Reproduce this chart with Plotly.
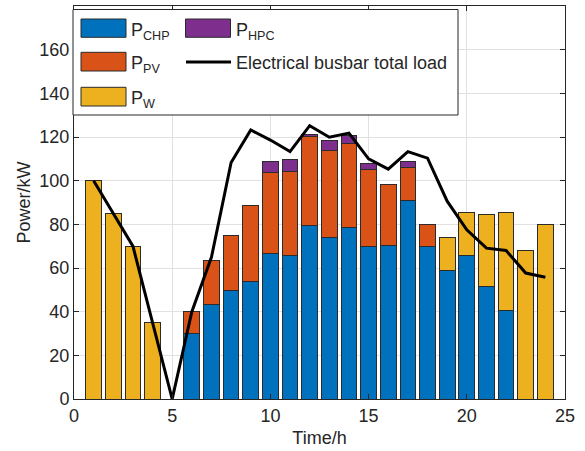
import plotly.graph_objects as go

hours = list(range(1, 25))
p_chp = [0, 0, 0, 0, 0, 30, 43.5, 49.7, 54, 66.6, 65.6, 79.6, 74, 78.7, 69.7, 70.3, 90.8, 69.7, 58.7, 65.6, 51.4, 40.4, 0, 0]
p_pv = [0, 0, 0, 0, 0, 10, 19.9, 25.2, 34.6, 37.3, 38.7, 40.6, 39.8, 38.1, 35.2, 27.8, 15.2, 10.1, 0, 0, 0, 0, 0, 0]
p_hpc = [0, 0, 0, 0, 0, 0, 0, 0, 0, 4.7, 5.5, 0.9, 4.6, 4.0, 3.1, 0, 3.0, 0, 0, 0, 0, 0, 0, 0]
p_w = [100, 85, 70, 35, 0, 0, 0, 0, 0, 0, 0, 0, 0, 0, 0, 0, 0, 0, 15.3, 19.8, 32.9, 45, 68, 80]
load = [100, 85, 70, 35, 0, 40, 65, 108.3, 123.2, 118.6, 113.3, 125.2, 119.9, 121.8, 110, 105.3, 113.3, 110.3, 90.6, 77.5, 69.1, 68, 57.7, 55.8]

x_ticks = [0, 5, 10, 15, 20, 25]
y_ticks = [0, 20, 40, 60, 80, 100, 120, 140, 160]

C_CHP = "#0072BD"
C_PV = "#D95319"
C_HPC = "#7E2F8E"
C_W = "#EDB120"
EDGE = "#2b2b2b"
TXT = "#262626"
FONT = "Liberation Sans, Arial, sans-serif"

fig = go.Figure()
for name, vals, col in [("P<sub>CHP</sub>", p_chp, C_CHP), ("P<sub>PV</sub>", p_pv, C_PV),
                        ("P<sub>HPC</sub>", p_hpc, C_HPC), ("P<sub>W</sub>", p_w, C_W)]:
    fig.add_trace(go.Bar(x=hours, y=vals, name=name, width=0.8,
                         marker=dict(color=col, line=dict(color=EDGE, width=1))))
fig.add_trace(go.Scatter(x=hours, y=load, mode="lines", name="Electrical busbar total load",
                         line=dict(color="black", width=3)))

# manual legend (MATLAB style, 2 columns)
def px(x):
    return (x - 74) / 491.0

def py(y):
    return (399 - y) / 393.0

shapes = [dict(type="rect", xref="paper", yref="paper", x0=px(73), x1=px(458), y0=py(115), y1=py(9.5),
               line=dict(color=TXT, width=1), fillcolor="white", layer="above")]
annos = []
items = [(81, 126, 19, 37.3, C_CHP, "P<sub>CHP</sub>"),
         (81, 126, 52.3, 71, C_PV, "P<sub>PV</sub>"),
         (81, 126, 87.3, 106, C_W, "P<sub>W</sub>"),
         (185.5, 230.5, 19, 37.3, C_HPC, "P<sub>HPC</sub>")]
for x0, x1, y0, y1, col, lab in items:
    shapes.append(dict(type="rect", xref="paper", yref="paper", x0=px(x0), x1=px(x1), y0=py(y1), y1=py(y0),
                       line=dict(color=EDGE, width=1), fillcolor=col, layer="above"))
    annos.append(dict(xref="paper", yref="paper", x=px(x1 + 3), y=py((y0 + y1) / 2 + 3), text=lab,
                      showarrow=False, xanchor="left", yanchor="middle",
                      font=dict(family=FONT, size=18, color=TXT)))
shapes.append(dict(type="line", xref="paper", yref="paper", x0=px(186), x1=px(231), y0=py(62), y1=py(62),
                   line=dict(color="black", width=3), layer="above"))
annos.append(dict(xref="paper", yref="paper", x=px(234), y=py(63), text="Electrical busbar total load",
                  showarrow=False, xanchor="left", yanchor="middle",
                  font=dict(family=FONT, size=18, color=TXT)))

axis_common = dict(showline=True, linecolor=TXT, linewidth=1, mirror="allticks", ticks="inside",
                   ticklen=5, tickcolor=TXT, showgrid=True, gridcolor="#e1e1e1", gridwidth=1,
                   zeroline=False, tickfont=dict(family=FONT, size=18, color=TXT))

fig.update_layout(
    width=585, height=451,
    margin=dict(l=74, r=20, t=6, b=52),
    paper_bgcolor="white", plot_bgcolor="white",
    barmode="stack", bargap=0.2, showlegend=False,
    shapes=shapes, annotations=annos,
    xaxis=dict(range=[0, 25], tickvals=x_ticks, ticktext=[str(v) for v in x_ticks],
               title=dict(text="Time/h", font=dict(family=FONT, size=18, color=TXT), standoff=6),
               **axis_common),
    yaxis=dict(range=[0, 180], tickvals=y_ticks, ticktext=[str(v) for v in y_ticks],
               title=dict(text="Power/kW", font=dict(family=FONT, size=18, color=TXT), standoff=4),
               **axis_common),
)
fig.update_xaxes(automargin=False)
fig.update_yaxes(automargin=False)
fig.write_html("out.html", config={"displayModeBar": False},
               post_script="document.body.style.margin='0';document.body.style.padding='0';"
                           "document.documentElement.style.overflow='hidden';")
